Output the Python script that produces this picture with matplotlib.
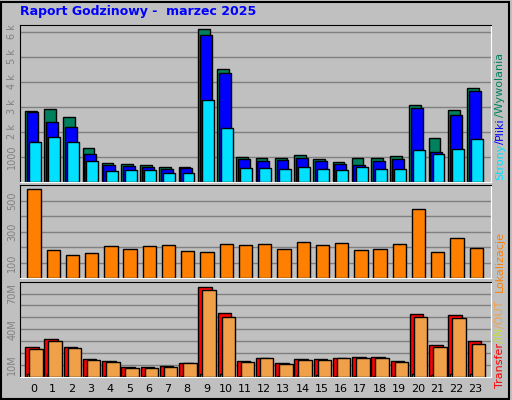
import matplotlib
matplotlib.use("Agg")
import matplotlib.pyplot as plt
import numpy as np

hours = list(range(24))
hits = [2.83,2.93,2.61,1.35,0.75,0.71,0.67,0.59,0.59,6.11,4.51,0.99,0.95,0.95,1.07,0.91,0.79,0.95,0.95,1.03,3.07,1.75,2.87,3.75]
files = [2.79,2.39,2.19,1.11,0.67,0.63,0.59,0.51,0.55,5.87,4.35,0.91,0.83,0.87,0.95,0.83,0.71,0.67,0.83,0.91,2.95,1.19,2.67,3.63]
pages = [1.59,1.79,1.59,0.83,0.43,0.47,0.47,0.35,0.35,3.27,2.15,0.55,0.55,0.51,0.59,0.51,0.47,0.59,0.51,0.51,1.27,1.11,1.31,1.71]
sites = [573,180,147,161,206,187,206,213,174,167,219,213,219,187,232,213,226,180,187,219,444,167,258,193]
transfer = [25,31.7,25,15,13.3,8.3,8.3,9.2,11.7,75.8,53.3,13.3,15.8,11.7,15,15,15.8,16.7,16.7,13.3,52.5,26.7,51.7,30]
traffic_in = [2.5,2.5,1.0,0.5,0.5,0.5,0.5,0.5,0.5,2.5,2.5,0.5,0.5,0.5,2.0,2.0,0.5,0.5,0.5,0.5,2.5,2.0,2.5,2.5]
traffic_out = [23.3,30,24.2,14.2,12.5,7.5,7.5,8.3,11.7,73.3,50,12.5,15.8,10.8,14.2,14.2,15.8,15.8,15.8,12.5,50,25,49.2,27.5]

W, H = 512, 400
BG = "#c0c0c0"
fig = plt.figure(figsize=(W/100, H/100), dpi=100, facecolor=BG)
x = np.array(hours)

def mkax(top, bot):
    ax = fig.add_axes([20/W, 1-bot/H, 471/W, (bot-top)/H])
    ax.set_facecolor(BG)
    ax.set_xlim(-0.69, 23.8)
    for s in ("top", "left"):
        ax.spines[s].set_color("black")
    for s in ("bottom", "right"):
        ax.spines[s].set_color("white")
    ax.tick_params(axis="y", length=0, labelsize=7, labelcolor="#808080", rotation=90, pad=2)
    ax.tick_params(axis="x", length=0)
    ax.set_xticks([])
    ax.grid(axis="y", color="#808080", lw=1)
    ax.set_axisbelow(True)
    return ax

ec = dict(edgecolor="black", linewidth=1)
ax1 = mkax(25, 182)
ax1.bar(x-0.135, hits, width=0.61, color="#00805c", **ec)
ax1.bar(x-0.04, files, width=0.62, color="#0000ff", **ec)
ax1.bar(x+0.07, pages, width=0.62, color="#00e0ff", **ec)
ax1.set_ylim(0, 6.27)
ax1.set_yticks([1,2,3,4,5,6])
ax1.set_yticklabels(["1000","2 k","3 k","4 k","5 k","6 k"])
for t in ax1.get_yticklabels(): t.set_va("center")

ax2 = mkax(185, 278)
ax2.bar(x+0.035, sites, width=0.69, color="#ff8000", **ec)
ax2.set_ylim(0, 601)
ax2.set_yticks([100,200,300,400,500])
ax2.set_yticklabels(["100","","300","","500"])
for t in ax2.get_yticklabels(): t.set_va("center")

ax3 = mkax(282, 377)
ax3.bar(x-0.07, transfer, width=0.7, color="#ff0000", **ec)
ax3.bar(x-0.26, traffic_in, width=0.1, color="#ffff00", **ec)
ax3.bar(x+0.14, traffic_out, width=0.7, color="#f0a048", **ec)
ax3.set_ylim(0, 79.7)
ax3.set_yticks([10,20,30,40,50,60,70])
ax3.set_yticklabels(["10M","","","40M","","","70M"])
for t in ax3.get_yticklabels(): t.set_va("center")
ax3.set_xticks(x)
ax3.set_xticklabels([str(h) for h in hours], fontsize=8)
ax3.tick_params(axis="x", pad=5)

fig.text(20/W, 1-12/H, "Raport Godzinowy -  marzec 2025", color="#0000ff",
         fontsize=9, fontweight="bold", va="center", ha="left")

# outer frame
fig.patches.append(plt.Rectangle((1/W, 1/H), 1-4/W, 1-3/H, transform=fig.transFigure,
                                 fill=False, edgecolor="black", lw=1.5))
fig.canvas.draw()
r = fig.canvas.get_renderer()

def stacked(parts, xpx, ybot):
    y = ybot
    for s, c in parts:
        t = fig.text(xpx/W, 1-y/H, s, color=c, rotation=90, fontsize=8,
                     ha="center", va="bottom")
        bb = t.get_window_extent(r)
        y -= bb.height
stacked([("Strony", "#00e0ff"), ("/", "#0000ff"), ("Pliki", "#0000ff"), ("/Wywolania", "#00805c")], 500, 180)
stacked([("Lokalizacje", "#ff8000")], 500, 292)
stacked([("Transfer", "#ff0000"), ("/IN", "#c0e040"), ("/OUT", "#f0a048")], 500, 388)

fig.savefig("out.png", dpi=100, facecolor=BG)
